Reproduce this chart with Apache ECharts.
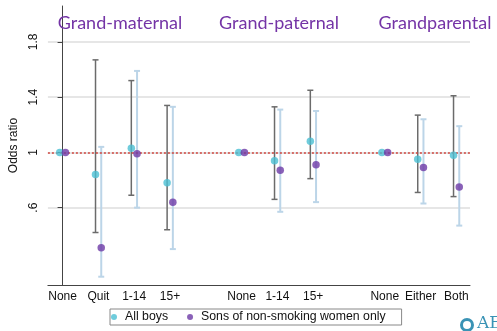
<!DOCTYPE html>
<html>
<head>
<meta charset="utf-8">
<script src="https://cdn.jsdelivr.net/npm/echarts@6/dist/echarts.min.js"></script>
<style>
  html, body { margin: 0; padding: 0; background: #fff; }
  #chart { width: 497px; height: 331px; }
</style>
</head>
<body>
<div id="chart"></div>
<script>
// x positions of the groups (gaps at 4 and 8)
const xPos = [0, 1, 2, 3, 5, 6, 7, 9, 10, 11];
const xLabels = ['None', 'Quit', '1-14', '15+', 'None', '1-14', '15+', 'None', 'Either', 'Both'];
const groupTitles = ['Grand-maternal', 'Grand-paternal', 'Grandparental'];
const yTicks = [0.6, 1, 1.4, 1.8];

// All boys
const boysOR = [1.00, 0.84, 1.03, 0.78, 1.00, 0.94, 1.08, 1.00, 0.95, 0.98];
const boysLo = [null, 0.42, 0.69, 0.44, null, 0.66, 0.81, null, 0.71, 0.68];
const boysHi = [null, 1.67, 1.52, 1.34, null, 1.33, 1.45, null, 1.27, 1.41];
// Sons of non-smoking women only
const sonsOR = [1.00, 0.31, 0.99, 0.64, 1.00, 0.87, 0.91, 1.00, 0.89, 0.75];
const sonsLo = [null, 0.10, 0.60, 0.30, null, 0.57, 0.64, null, 0.63, 0.47];
const sonsHi = [null, 1.04, 1.59, 1.33, null, 1.31, 1.30, null, 1.24, 1.19];

const off = 0.08;
const chart = echarts.init(document.getElementById('chart'));

function ciData(lo, hi, shift) {
    const out = [];
    xPos.forEach((x, i) => {
        if (lo[i] != null) out.push([x + shift, lo[i], hi[i]]);
    });
    return out;
}
function ciSeries(data, color, width) {
    return {
        type: 'custom',
        silent: true,
        z: 2,
        data: data,
        encode: { x: 0, y: [1, 2] },
        renderItem: (params, api) => {
            const a = api.coord([api.value(0), api.value(1)]);
            const b = api.coord([api.value(0), api.value(2)]);
            const hw = 3;
            const st = { stroke: color, lineWidth: width };
            return {
                type: 'group',
                children: [
                    { type: 'line', shape: { x1: a[0], y1: a[1], x2: b[0], y2: b[1] }, style: st },
                    { type: 'line', shape: { x1: a[0] - hw, y1: a[1], x2: a[0] + hw, y2: a[1] }, style: st },
                    { type: 'line', shape: { x1: b[0] - hw, y1: b[1], x2: b[0] + hw, y2: b[1] }, style: st }
                ]
            };
        }
    };
}

const titleX = [120, 279, 435];

const option = {
    animation: false,
    backgroundColor: '#fff',
    textStyle: { fontFamily: 'Liberation Sans' },
    title: groupTitles.map((t, i) => ({
        text: t,
        left: titleX[i],
        top: 14,
        padding: 0,
        textAlign: 'center',
        textStyle: { fontFamily: 'Lato', fontSize: 18, fontWeight: 'normal', color: '#7434a6' }
    })),
    grid: { left: 42, right: 27, top: 6, bottom: 46 },
    xAxis: {
        type: 'value',
        min: -0.41,
        max: 11.38,
        splitLine: { show: false },
        axisTick: { show: false },
        axisLine: { show: true, onZero: false, lineStyle: { color: '#444', width: 1 } },
        axisLabel: {
            customValues: xPos,
            color: '#111',
            fontSize: 12,
            margin: 6,
            formatter: v => xLabels[xPos.indexOf(Math.round(v))] || ''
        }
    },
    yAxis: {
        type: 'value',
        min: 0.04,
        max: 2.06,
        name: 'Odds ratio',
        nameLocation: 'middle',
        nameGap: 26,
        nameTextStyle: { color: '#111', fontSize: 12 },
        axisLine: { show: true, lineStyle: { color: '#444', width: 1 } },
        axisTick: { show: true, customValues: yTicks, length: 5, lineStyle: { color: '#444' } },
        axisLabel: {
            customValues: yTicks,
            rotate: 90,
            color: '#111',
            fontSize: 12,
            margin: 8,
            formatter: v => String(v).replace(/^0\./, '.')
        },
        splitLine: { show: true, lineStyle: { color: '#dedede', width: 1.5 } }
    },
    legend: {
        left: 110,
        top: 309,
        padding: [2, 16, 2, 1],
        borderColor: '#888',
        borderWidth: 1,
        itemWidth: 12,
        itemHeight: 6,
        itemGap: 19,
        icon: 'circle',
        textStyle: { color: '#111', fontSize: 12.3 },
        data: ['All boys', 'Sons of non-smoking women only']
    },
    series: [
        ciSeries(ciData(boysLo, boysHi, -off), '#6b6b6b', 1.5),
        ciSeries(ciData(sonsLo, sonsHi, off), '#bcd5e8', 2),
        {
            type: 'line',
            data: [],
            silent: true,
            markLine: {
                silent: true,
                symbol: 'none',
                label: { show: false },
                lineStyle: { color: '#d0453f', type: [2, 2], width: 1.5 },
                data: [{ yAxis: 1 }]
            }
        },
        {
            name: 'All boys',
            type: 'scatter',
            symbolSize: 7.5,
            z: 5,
            itemStyle: { color: '#4bbfd3' },
            data: xPos.map((x, i) => [x - off, boysOR[i]])
        },
        {
            name: 'Sons of non-smoking women only',
            type: 'scatter',
            symbolSize: 7.5,
            z: 6,
            itemStyle: { color: '#6d3aa6' },
            data: xPos.map((x, i) => [x + off, sonsOR[i]])
        }
    ],
    graphic: [
        { type: 'circle', shape: { cx: 467, cy: 325, r: 5.5 }, style: { fill: '#fff', stroke: '#3a93b5', lineWidth: 3 } },
        { type: 'text', x: 477, y: 315, style: { text: 'AEA', font: '17px "DejaVu Serif"', fill: '#3a93b5' } }
    ]
};
chart.setOption(option);
</script>
</body>
</html>
